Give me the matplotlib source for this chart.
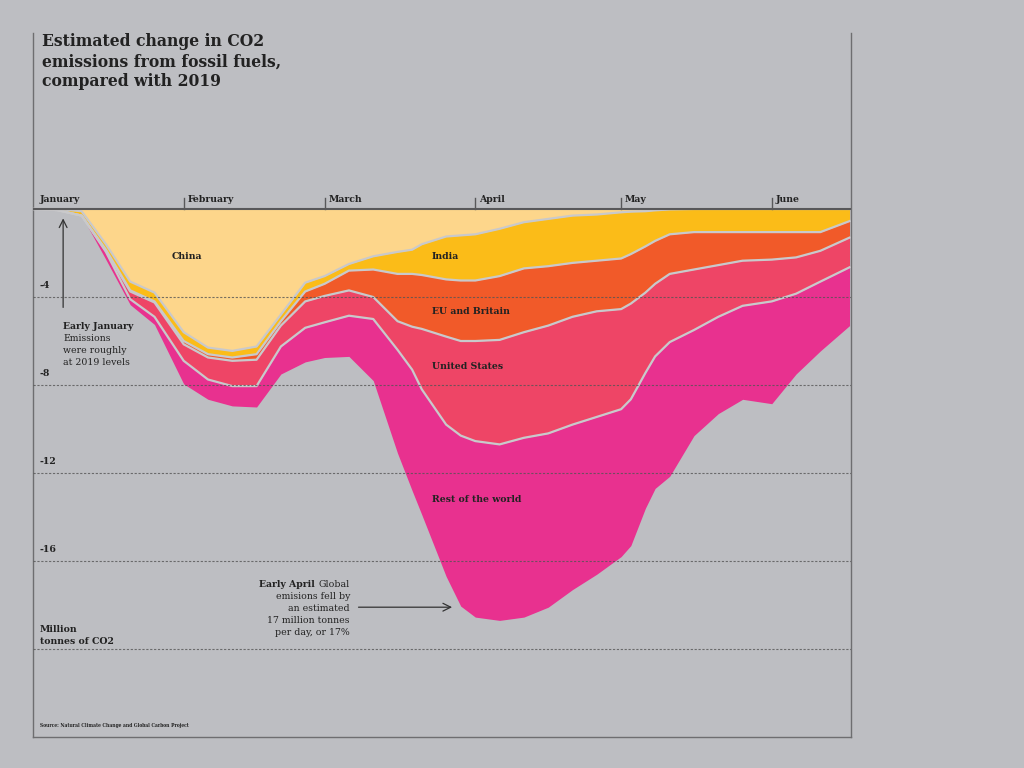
import matplotlib
matplotlib.use("Agg")
import matplotlib.pyplot as plt
import numpy as np

# days since 1 January 2020
days = [0, 5, 10, 15, 20, 25, 31, 36, 41, 46, 51, 56, 60, 65, 70, 75, 78, 80, 85, 88,
        91, 96, 101, 106, 111, 116, 121, 123, 126, 128, 131, 136, 141, 146, 152, 157, 162, 168]

# change in emissions, million tonnes CO2 per day
china = [0, 0, -0.1, -1.6, -3.3, -3.8, -5.6, -6.3, -6.45, -6.25, -4.8, -3.35, -3.05, -2.5,
         -2.15, -1.95, -1.85, -1.6, -1.25, -1.2, -1.15, -0.9, -0.6, -0.45, -0.3, -0.25,
         -0.15, -0.12, -0.1, -0.06, -0.02, 0, 0, 0, 0, 0, 0, 0]
india = [0, -0.05, -0.2, -0.25, -0.4, -0.4, -0.4, -0.3, -0.3, -0.35, -0.3, -0.4, -0.35, -0.3,
         -0.6, -1.0, -1.1, -1.4, -1.95, -2.05, -2.1, -2.15, -2.1, -2.15, -2.15, -2.1,
         -2.1, -1.93, -1.6, -1.39, -1.13, -1.05, -1.05, -1.05, -1.05, -1.05, -1.05, -0.55]
eu = [0, 0, 0, -0.05, -0.05, -0.05, -0.15, -0.15, -0.15, -0.25, -0.2, -0.45, -0.55, -0.9,
      -1.25, -2.15, -2.4, -2.45, -2.6, -2.75, -2.75, -2.9, -2.9, -2.7, -2.45, -2.3,
      -2.3, -2.25, -2.1, -1.95, -1.8, -1.7, -1.5, -1.3, -1.25, -1.15, -0.85, -0.75]
us = [0, 0, 0, -0.05, -0.35, -0.65, -0.75, -1.0, -1.15, -1.2, -0.95, -1.2, -1.2, -1.15,
      -1.0, -1.3, -1.95, -2.75, -4.0, -4.3, -4.55, -4.75, -4.8, -4.9, -4.9, -4.8,
      -4.55, -4.35, -3.65, -3.3, -3.1, -2.75, -2.35, -2.05, -1.9, -1.65, -1.4, -1.35]
rest = [0, 0, 0, -0.35, -0.25, -0.35, -1.05, -0.9, -0.9, -0.95, -1.25, -1.55, -1.6, -1.85,
        -2.8, -4.7, -5.5, -5.7, -6.9, -7.75, -8.0, -8.0, -8.15, -7.9, -7.5, -7.15,
        -6.7, -6.65, -6.15, -6.0, -6.1, -4.8, -4.4, -4.25, -4.65, -3.65, -3.15, -2.65]

names = ["China", "India", "EU and Britain", "United States", "Rest of the world"]
colors = ["#fdd68b", "#fbbc18", "#f15a29", "#ee4566", "#e8318f"]
label_pos = [(28.6, -2.18), (82, -2.18), (82, -4.68), (82, -7.18), (82, -13.2)]

months = ["January", "February", "March", "April", "May", "June"]
month_start = [0, 31, 60, 91, 121, 152]
grid_vals = [-4, -8, -12, -16, -20]
grid_labels = ["-4", "-8", "-12", "-16", ""]

bg = "#bdbec2"
ink = "#222222"
font = dict(family="DejaVu Serif", fontstretch="condensed", color=ink)

fig = plt.figure(figsize=(10.24, 7.68), dpi=100, facecolor=bg)
ax = fig.add_axes([33 / 1024, 31 / 768, 818 / 1024, 704 / 768], facecolor=bg)
ax.set_xlim(0, 168.3)
ax.set_ylim(-24, 8.0)

x = np.array(days)
layers = [china, india, eu, us, rest]
top = np.zeros(len(days))
for i, vals in enumerate(layers):
    bottom = top + np.array(vals)
    ax.fill_between(x, top, bottom, color=colors[i], lw=0, zorder=2)
    if i < len(layers) - 1:
        ax.plot(x, bottom, color="#c9c9cb", lw=1.6, zorder=3, solid_joinstyle="round")
    top = bottom

for i, name in enumerate(names):
    ax.text(*label_pos[i], name, fontsize=7.5, fontweight="bold", va="center", zorder=6, **font)

# grid
for g, lab in zip(grid_vals, grid_labels):
    ax.axhline(g, color="#555555", lw=0.8, ls=(0, (2, 1.5)), alpha=0.8, zorder=4)
    ax.text(1.4, g + 0.5, lab, fontsize=7.5, fontweight="bold", va="center", **font)
ax.axhline(0, color="#58585a", lw=1.5, zorder=5)

for m, d in zip(months, month_start):
    if d > 0:
        ax.plot([d, d], [0, 0.5], color="#58585a", lw=1, zorder=5)
        off = 0.8
    else:
        off = 1.4
    ax.text(d + off, 0.22, m, fontsize=7.5, fontweight="bold", va="bottom", **font)

ax.spines["top"].set_visible(False)
for s in ["left", "right", "bottom"]:
    ax.spines[s].set_color("#6e6e70")
    ax.spines[s].set_linewidth(1)
ax.set_xticks([])
ax.set_yticks([])

# title
fig.text(42 / 1024, 1 - 33 / 768, "Estimated change in CO2\nemissions from fossil fuels,\ncompared with 2019",
         fontsize=12.5, fontweight="bold", va="top", linespacing=1.25, **font)

# early January note
ax.annotate("", xy=(6.2, -0.3), xytext=(6.2, -4.6),
            arrowprops=dict(arrowstyle="->", color="#333333", lw=0.9, mutation_scale=14))
jan_lines = ["Early January", "Emissions", "were roughly", "at 2019 levels"]
for k, line in enumerate(jan_lines):
    ax.text(6.2, -5.36 - 0.545 * k, line, fontsize=7.5,
            fontweight="bold" if k == 0 else "normal", va="center", **font)

# early April note
ax.annotate("", xy=(86.8, -18.1), xytext=(66.4, -18.1),
            arrowprops=dict(arrowstyle="->", color="#333333", lw=0.9, mutation_scale=14))
apr_lines = ["Global", "emisions fell by", "an estimated", "17 million tonnes", "per day, or 17%"]
for k, line in enumerate(apr_lines):
    t = ax.text(65.2, -17.05 - 0.545 * k, line, fontsize=7.5, ha="right", va="center", **font)
    if k == 0:
        t_glob = t
fig.canvas.draw()
bb = t_glob.get_window_extent().transformed(ax.transData.inverted())
ax.text(bb.x0 - 0.7, -17.05, "Early April", fontsize=7.5, fontweight="bold",
        ha="right", va="center", **font)

ax.text(1.4, -19.1, "Million", fontsize=7.5, fontweight="bold", va="center", **font)
ax.text(1.4, -19.65, "tonnes of CO2", fontsize=7.5, fontweight="bold", va="center", **font)
ax.text(1.4, -23.5, "Source: Natural Climate Change and Global Carbon Project", fontsize=3.6,
        fontweight="bold", va="center", **font)

fig.savefig("out.png", dpi=100, facecolor=bg)
